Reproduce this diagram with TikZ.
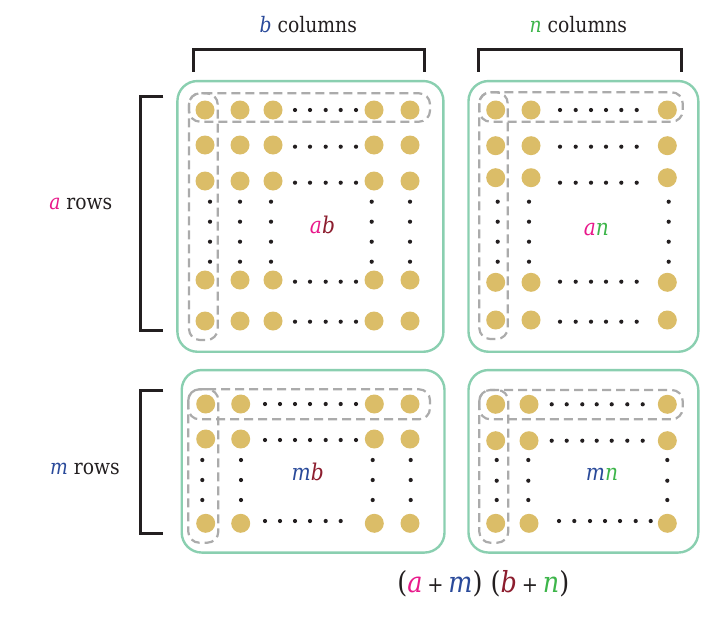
\documentclass[tikz,border=0pt]{standalone}
\usepackage{fontspec}
\setmainfont{DejaVu Serif}[FakeStretch=0.88]
\definecolor{cA}{HTML}{E8198B}
\definecolor{cM}{HTML}{2A4A9A}
\definecolor{cB}{HTML}{8C1D2E}
\definecolor{cN}{HTML}{3DB54A}
\definecolor{gold}{HTML}{DBBD68}
\definecolor{boxg}{HTML}{8ACFB0}
\definecolor{dashg}{HTML}{ABABAB}
\definecolor{ink}{HTML}{231F20}
\tikzset{
  panel/.style={draw=boxg, line width=2.4pt, rounded corners=20pt, inner sep=0pt, outer sep=0pt},
  grp/.style={draw=dashg, line width=2.2pt, dash pattern=on 9pt off 5pt, rounded corners=11pt},
  brk/.style={draw=ink, line width=3pt},
  lbl/.style={font=\fontsize{21.3}{25}\selectfont, text=ink, anchor=base, inner sep=0pt},
  prod/.style={font=\fontsize{23}{26}\selectfont, anchor=base, inner sep=0pt},
  frm/.style={font=\fontsize{29}{32}\selectfont, text=ink, anchor=base, inner sep=0pt},
}
\newcommand{\gd}[2]{\fill[gold] (#1,#2) circle (9.5pt);}
\newcommand{\sd}[2]{\fill[ink] (#1,#2) circle (2.1pt);}
\begin{document}
\begin{tikzpicture}[x=1pt,y=-1pt]
\useasboundingbox (0,0) rectangle (727,618);
% panels
\node[panel, minimum width=266pt, minimum height=270.7pt] (P1) at (310.4,216.4) {};
\node[panel, minimum width=229.8pt, minimum height=270.7pt] (P2) at (583.4,216.4) {};
\node[panel, minimum width=262.8pt, minimum height=182.5pt] (P3) at (313.1,461.3) {};
\node[panel, minimum width=229.8pt, minimum height=182.5pt] (P4) at (583.4,461.3) {};
% box 1 dots
\foreach \x in {205,240,273,374,410}{\foreach \y in {110,145,181,280,321}{\gd{\x}{\y}}}
\foreach \x in {295,310,325.7,340.7,356}{\foreach \y in {110,146.7,182.7,281.7,321.7}{\sd{\x}{\y}}}
\foreach \x in {210,240,271,371.7,410}{\foreach \y in {201.7,221.7,241.7,261.7}{\sd{\x}{\y}}}
% box 2 dots
\foreach \x in {495.7,531,667.3}{\foreach \y in {110,145.7,177.7,282.3,320}{\gd{\x}{\y}}}
\foreach \x in {560,575.7,591,606,621.3,636.7}{\foreach \y in {110,146.7,182.7,281.7,321.7}{\sd{\x}{\y}}}
\foreach \x in {497.7,529,668.7}{\foreach \y in {201.7,221.7,241.7,261.7}{\sd{\x}{\y}}}
% box 3 dots
\foreach \x in {205.7,240.7,374.3,410}{\foreach \y in {404,439,523.3}{\gd{\x}{\y}}}
\foreach \x in {265,280,295,310,325.7,340.7,356}{\foreach \y in {404,440}{\sd{\x}{\y}}}
\foreach \x in {265,280,295,310,325.7,340.7}{\sd{\x}{521}}
\foreach \x in {202.3,241,372.7,410.7}{\foreach \y in {460,480,500}{\sd{\x}{\y}}}
% box 4 dots
\foreach \x in {495.7,529,667.3}{\foreach \y in {404.3,440.7,523.3}{\gd{\x}{\y}}}
\foreach \x in {551.7,566.7,582.3,596.7,611.7,627.3,642.7}{\foreach \y in {404.3,440.7}{\sd{\x}{\y}}}
\foreach \x in {559,574.3,590,605,620,635.7,650.7}{\sd{\x}{521}}
\foreach \x in {496.7,528.3,667.3}{\foreach \y in {460,480.7,500}{\sd{\x}{\y}}}
% dashed groups
\draw[grp] (189,93.3) rectangle (430,121.7);
\draw[grp] (189,93.3) rectangle (217.7,340);
\draw[grp] (479.3,92.3) rectangle (682.7,121.7);
\draw[grp] (479.3,92.3) rectangle (507.7,339);
\draw[grp] (188.3,389.3) rectangle (430,419.3);
\draw[grp] (188.3,389.3) rectangle (218.3,542.7);
\draw[grp] (479.3,390) rectangle (682.7,419.3);
\draw[grp] (479.3,390) rectangle (508.3,542.7);
% brackets
\draw[brk] (193.3,71.7) -- (193.3,49.3) -- (424,49.3) -- (424,71.7);
\draw[brk] (478.3,71.7) -- (478.3,49.3) -- (681.7,49.3) -- (681.7,71.7);
\draw[brk] (163.3,96.7) -- (140,96.7) -- (140,330) -- (163.3,330);
\draw[brk] (163.3,390) -- (140,390) -- (140,533.3) -- (163.3,533.3);
% labels
\node[lbl] (Lb) at (308.3,32.3) {\textcolor{cM}{\itshape b} columns};
\node[lbl] (Ln) at (578.3,32.3) {\textcolor{cN}{\itshape n} columns};
\node[lbl] (La) at (80.8,209) {\textcolor{cA}{\itshape a} rows};
\node[lbl] (Lm) at (85,474) {\textcolor{cM}{\itshape m} rows};
\node[prod] (ab) at (322.5,233.7) {\itshape\textcolor{cA}{a}\textcolor{cB}{b}};
\node[prod] (an) at (596.3,235.7) {\itshape\textcolor{cA}{a}\textcolor{cN}{n}};
\node[prod] (mb) at (307.8,480.7) {\itshape\textcolor{cM}{m}\textcolor{cB}{b}};
\node[prod] (mn) at (602,480.7) {\itshape\textcolor{cM}{m}\textcolor{cN}{n}};
\node[frm] (F) at (483.3,592.3) {(\textcolor{cA}{\itshape a}\,{\fontsize{22}{26}\selectfont+}\,\textcolor{cM}{\itshape m}) (\textcolor{cB}{\itshape b}\,{\fontsize{22}{26}\selectfont+}\,\textcolor{cN}{\itshape n})};
\end{tikzpicture}
\end{document}
